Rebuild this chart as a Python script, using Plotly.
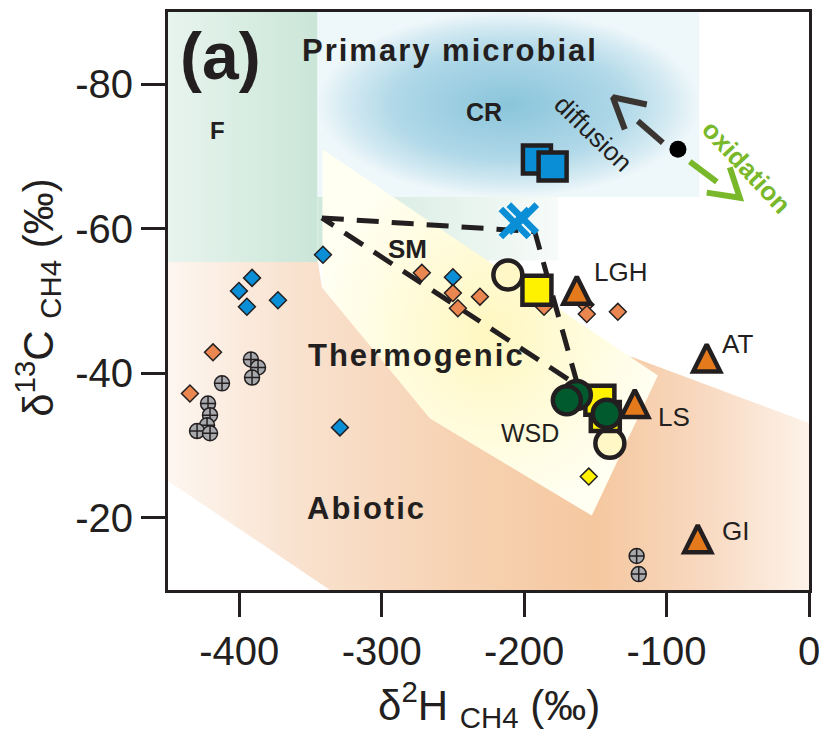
import plotly.graph_objects as go

# ---------------- data (δ2H, δ13C in ‰) ----------------
blue_sq_x = [-191, -180]
blue_sq_y = [-69.6, -68.6]
cross_x = [-206.5, -200.9]
cross_y = [-60.8, -61.4]
cream_x = [-211.4, -139.8]
cream_y = [-53.6, -30.3]
ysq_x = [-143, -191, -146.8]
ysq_y = [-34.0, -51.5, -36.25]
green_x = [-163, -170, -142]
green_y = [-37.0, -36.25, -34.4]
ydia_x = [-157.4, -154.6]
ydia_y = [-36.2, -25.7]
tri_x = [-163, -71.8, -122.3, -78.1]
tri_y = [-51.5, -42.1, -35.8, -17.1]
tri_labels = ["LGH", "AT", "LS", "GI"]
odia_x = [-271.8, -250, -246.5, -231, -186, -157, -156, -134.2, -418.4, -434.6]
odia_y = [-53.9, -51.1, -49.0, -50.6, -49.2, -49.5, -48.2, -48.5, -42.9, -37.2]
bdia_x = [-341.2, -391, -400.2, -394.6, -372.8, -329.3, -250]
bdia_y = [-56.4, -53.2, -51.4, -49.2, -50.1, -32.5, -53.3]
gray_x = [-391.8, -386.8, -391, -412.1, -421.9, -420.5, -422.6, -429.6, -420.5, -121, -119.5]
gray_y = [-41.9, -40.8, -39.4, -38.6, -35.8, -34.2, -32.8, -32.0, -31.7, -14.7, -12.2]
dot_x = [-92]
dot_y = [-71]

x_ticks = [-400, -300, -200, -100, 0]
x_ticktext = ['-400', '-300', '-200', '-100', '0']
y_ticks = [-80, -60, -40, -20]
y_ticktext = ['-80', '-60', '-40', '-20']

# field outlines
F_x = [-450, -345, -345, -450]
F_y = [-90, -90, -55.4, -55.4]
band_x = [-345, -176, -176, -345]
band_y = [-64.4, -64.4, -55.6, -55.6]
CR_x = [-345, -77, -77, -345]
CR_y = [-90, -90, -64.4, -64.4]
T_x = [-341.6, -106.1, -152.5, -266.1, -341.6]
T_y = [-71.0, -39.7, -20.3, -33.75, -51.8]
A_x = [-450, -344.7, -341.9, -123.7, 0, 0, -336.3, -450]
A_y = [-55.4, -55.4, -51.8, -42.2, -33.1, -10, -10, -25.1]
SM_x = [-342, -192.5, -162.3, -342]
SM_y = [-61.5, -59.6, -38.3, -61.5]

# process arrows
diff_shaft_x = [-120.2, -102.6]
diff_shaft_y = [-74.9, -71.9]
diff_head_x = [-113.9, -137.7, -129.3]
diff_head_y = [-77.2, -78.2, -73.75]
ox_shaft_x = [-83.7, -64.7]
ox_shaft_y = [-69.3, -66.5]
ox_head_x = [-71.8, -48.6, -55.6]
ox_head_y = [-65.0, -64.3, -68.5]

TXT = '#231f20'
FONT = 'Arial, Liberation Sans, sans-serif'

fig = go.Figure()

def region(x, y, gtype, cs):
    fig.add_trace(go.Scatter(x=x, y=y, fill='toself', mode='lines',
                             line=dict(width=0, color='rgba(0,0,0,0)'),
                             fillgradient=dict(type=gtype, colorscale=cs),
                             hoverinfo='skip', showlegend=False))

region(A_x, A_y, 'horizontal', [[0, '#fdf6f0'], [0.2, '#f9e2cf'], [0.44, '#f7d3b4'],
                                [0.67, '#f5c8a0'], [0.83, '#f8d8bf'], [1, '#fdf2e9']])
region(F_x, F_y, 'horizontal', [[0, '#e8f4ee'], [1, '#cae6d8']])
region(band_x, band_y, 'horizontal', [[0, '#cfe8dc'], [1, '#f7fbf9']])
region(CR_x, CR_y, 'radial', [[0, '#8ac5db'], [0.6, '#b0d8e8'], [0.85, '#d4eaf2'], [1, '#eef7fa']])
region(T_x, T_y, 'radial', [[0, '#fff7c0'], [1, '#fffff2']])

# SM dashed outline
fig.add_trace(go.Scatter(x=SM_x, y=SM_y, mode='lines',
                         line=dict(color=TXT, width=5, dash='22px,13px'),
                         hoverinfo='skip', showlegend=False))

# arrows
for xs, ys, col in [(diff_shaft_x, diff_shaft_y, '#3b3532'), (diff_head_x, diff_head_y, '#3b3532'),
                    (ox_shaft_x, ox_shaft_y, '#78b82a'), (ox_head_x, ox_head_y, '#78b82a')]:
    fig.add_trace(go.Scatter(x=xs, y=ys, mode='lines', line=dict(color=col, width=6),
                             hoverinfo='skip', showlegend=False))

def pts(x, y, symbol, size, color, lw=1.5, lc='#231f20', **kw):
    fig.add_trace(go.Scatter(x=x, y=y, mode='markers', showlegend=False,
                             marker=dict(symbol=symbol, size=size, color=color,
                                         line=dict(width=lw, color=lc), **kw)))

pts(gray_x, gray_y, 'circle-cross', 15, '#a7a9ac', lw=1.5)
pts(bdia_x, bdia_y, 'diamond', 13, '#0a8fd6', lw=1.5)
pts(odia_x, odia_y, 'diamond', 13, '#ea8650', lw=1.5)
pts(ydia_x, ydia_y, 'diamond', 13, '#fff200', lw=1.5)
pts(cream_x, cream_y, 'circle', 29, '#fff8c6', lw=4.5)
pts(ysq_x, ysq_y, 'square', 29, '#fff200', lw=4.5)
pts(green_x, green_y, 'circle', 28, '#005a2e', lw=4.5)
pts(blue_sq_x, blue_sq_y, 'square', 28, '#0a8fd6', lw=4.5)
pts(tri_x, tri_y, 'arrow-down', 27, '#e57a1c', lw=4.5, angle=180, standoff=13.5)
pts(cross_x, cross_y, 'x-thin-open', 28, '#0a8fd6', lw=6.5, lc='#0a8fd6')
pts(dot_x, dot_y, 'circle', 17, '#000000', lw=0)

ann = []
def label(x, y, text, size, bold=False, color=TXT, angle=0, xanchor='center'):
    t = f'<b>{text}</b>' if bold else text
    ann.append(dict(x=x, y=y, xref='x', yref='y', text=t, showarrow=False,
                    font=dict(family=FONT, size=size, color=color), textangle=angle,
                    xanchor=xanchor, yanchor='middle'))

sp = "<span style='letter-spacing:2px'>{}</span>"
label(-413, -83.9, '(a)', 66, bold=True)
label(-252, -84.7, sp.format('Primary microbial'), 31, bold=True)
label(-415.6, -73.6, 'F', 24, bold=True)
label(-228.2, -76.1, 'CR', 25, bold=True)
label(-281.6, -57.2, 'SM', 26, bold=True)
label(-275.3, -42.5, sp.format('Thermogenic'), 31, bold=True)
label(-310.4, -21.25, sp.format('Abiotic'), 31, bold=True)
label(-196, -31.7, 'WSD', 25)
for lx, ly, t in zip([-132.1, -50, -94.9, -51.4], [-54, -44, -33.9, -18.2], tri_labels):
    label(lx, ly, t, 26)
label(-151.8, -73.2, 'diffusion', 26, color='#231f20', angle=44)
label(-43.7, -68.6, 'oxidation', 26, bold=True, color='#78b82a', angle=47)

# axis titles
ann.append(dict(x=0.5, y=-0.198, xref='paper', yref='paper', showarrow=False,
                text='δ<sup>2</sup>H <sub>CH4</sub> (‰)', font=dict(family=FONT, size=42, color=TXT),
                xanchor='center', yanchor='middle'))
ann.append(dict(x=-0.203, y=0.507, xref='paper', yref='paper', showarrow=False, textangle=-90,
                text='δ<sup>13</sup>C <sub>CH4</sub> (‰)', font=dict(family=FONT, size=42, color=TXT),
                xanchor='center', yanchor='middle'))

axis_common = dict(showgrid=False, zeroline=False, showline=True, linewidth=3, linecolor=TXT,
                   mirror=True, ticks='outside', ticklen=24, tickwidth=3, tickcolor=TXT,
                   tickfont=dict(family=FONT, size=40, color=TXT), automargin=False)

fig.update_layout(
    width=825, height=735,
    margin=dict(l=168, r=16, t=12, b=145),
    paper_bgcolor='white', plot_bgcolor='white',
    xaxis=dict(range=[-450, 0], tickvals=x_ticks, ticktext=x_ticktext, **axis_common),
    yaxis=dict(range=[-10, -90], tickvals=y_ticks, ticktext=y_ticktext, **axis_common),
    annotations=ann,
    showlegend=False,
)

fig.write_html('out.html', config={'displayModeBar': False},
               post_script="document.body.style.margin='0';document.body.style.padding='0';")
